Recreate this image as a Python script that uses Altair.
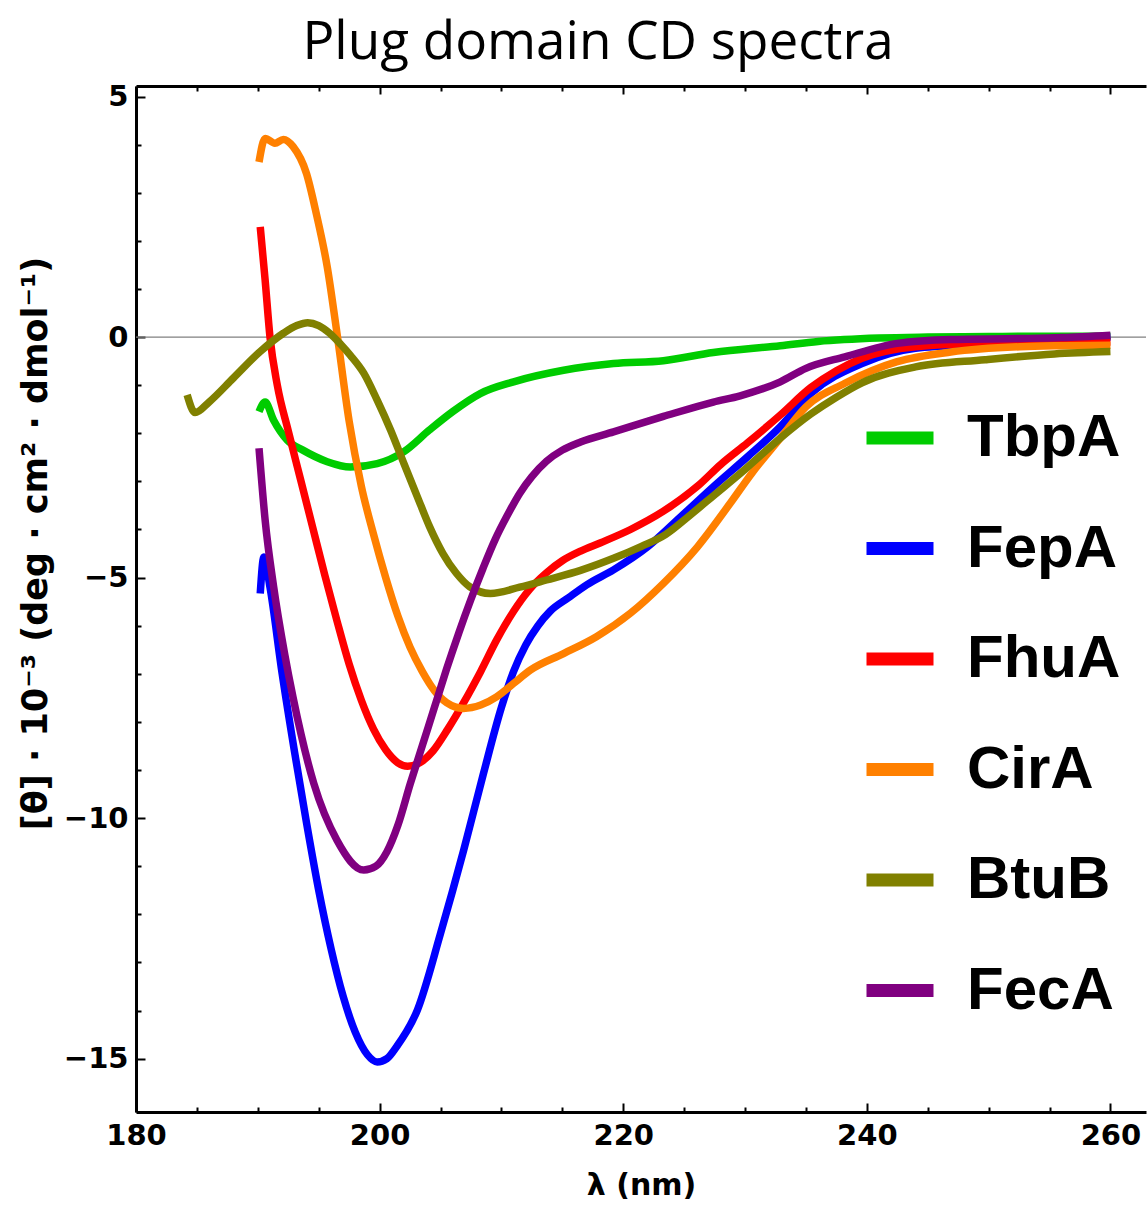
import altair as alt
import pandas as pd

# Series names and colours (legend order = drawing order)
names = ["TbpA", "FepA", "FhuA", "CirA", "BtuB", "FecA"]
colors = ["#00cc00", "#0000ff", "#ff0000", "#ff8000", "#808000", "#800080"]

# Wavelength (nm) and mean residue ellipticity x 10^-3 for each plug domain
tbpa_wl = [190.1, 190.6, 191.3, 192.4, 193.7, 195.7, 197.6, 199.8, 202.0, 204.1, 206.0,
           208.3, 211.0, 215.1, 219.2, 223.3, 227.4, 232.9, 236.0, 241.0, 245.0, 250.0,
           255.0, 260.0]
tbpa_cd = [-1.55, -1.35, -1.73, -2.14, -2.35, -2.59, -2.70, -2.63, -2.38, -1.93, -1.55,
           -1.17, -0.93, -0.69, -0.55, -0.49, -0.32, -0.18, -0.09, -0.02, 0.0, 0.01,
           0.02, 0.02]

fepa_wl = [190.2, 190.5, 191.0, 192.0, 193.0, 194.0, 195.0, 196.0, 197.0, 198.0, 199.0,
           199.8, 200.6, 201.4, 203.1, 205.0, 206.9, 208.5, 210.0, 211.0, 212.0, 213.0,
           214.0, 215.5, 217.0, 219.2, 222.0, 224.7, 227.4, 230.2, 232.9, 235.4, 239.6,
           244.0, 249.7, 255.0, 260.0]
fepa_cd = [-5.33, -4.57, -5.2, -7.0, -8.6, -10.1, -11.5, -12.7, -13.7, -14.45, -14.92,
           -15.07, -15.0, -14.75, -13.99, -12.4, -10.67, -9.1, -7.7, -6.95, -6.4, -6.0,
           -5.7, -5.42, -5.15, -4.84, -4.36, -3.74, -3.11, -2.49, -1.86, -1.17, -0.55,
           -0.23, -0.15, -0.08, 0.0]

fhua_wl = [190.2, 190.6, 191.0, 191.6, 192.5, 193.5, 194.5, 195.5, 196.5, 197.5, 198.5,
           199.5, 200.5, 201.5, 202.3, 203.3, 204.4, 205.6, 206.9, 208.3, 209.6, 211.0,
           212.3, 213.7, 215.0, 216.5, 218.1, 220.6, 223.3, 226.1, 228.0, 230.2, 232.9,
           235.4, 237.5, 239.6, 244.0, 249.7, 255.0, 260.0]
fhua_cd = [2.29, 1.19, 0.0, -1.0, -1.95, -2.95, -3.95, -4.95, -5.9, -6.8, -7.55,
           -8.15, -8.58, -8.85, -8.92, -8.85, -8.6, -8.15, -7.6, -6.95, -6.3, -5.7,
           -5.25, -4.9, -4.65, -4.45, -4.28, -4.0, -3.62, -3.1, -2.65, -2.2, -1.62,
           -1.05, -0.7, -0.44, -0.20, -0.13, -0.11, -0.10]

cira_wl = [190.1, 190.6, 191.4, 192.1, 192.9, 194.0, 194.8, 195.7, 196.5, 197.5, 198.5,
           199.5, 200.5, 201.5, 202.5, 203.5, 204.5, 205.5, 206.9, 208.3, 209.6, 211.0,
           212.4, 215.1, 217.8, 220.6, 223.3, 226.1, 228.8, 230.5, 232.9, 235.0, 238.2,
           242.5, 246.9, 252.6, 256.0, 260.0]
cira_cd = [3.64, 4.13, 4.03, 4.11, 3.96, 3.40, 2.57, 1.46, 0.08, -1.75, -3.1,
           -4.1, -5.0, -5.8, -6.45, -6.95, -7.35, -7.6, -7.72, -7.65, -7.48, -7.2,
           -6.92, -6.58, -6.23, -5.74, -5.12, -4.36, -3.45, -2.85, -2.1, -1.45, -0.96,
           -0.51, -0.31, -0.20, -0.18, -0.17]

btub_wl = [184.2, 184.85, 186.0, 188.0, 190.2, 192.1, 193.2, 194.1, 195.0, 195.9, 196.8,
           197.6, 198.7, 199.8, 200.9, 202.0, 203.1, 204.1, 205.2, 206.3, 207.4, 209.1,
           211.5, 213.7, 216.5, 219.2, 221.5, 223.5, 225.5, 227.4, 230.0, 232.9, 235.4,
           237.5, 239.6, 244.0, 249.7, 255.4, 260.0]
btub_cd = [-1.2, -1.57, -1.35, -0.85, -0.3, 0.08, 0.24, 0.30, 0.24, 0.08, -0.15,
           -0.38, -0.75, -1.31, -1.93, -2.63, -3.32, -3.94, -4.5, -4.91, -5.19, -5.33,
           -5.2, -5.05, -4.85, -4.6, -4.35, -4.1, -3.7, -3.3, -2.75, -2.1, -1.6,
           -1.25, -0.95, -0.62, -0.47, -0.35, -0.30]

feca_wl = [190.1, 190.6, 191.3, 192.2, 192.9, 194.6, 196.5, 198.7, 199.7, 200.6, 201.5,
           202.5, 203.5, 204.5, 205.5, 206.5, 207.5, 208.5, 209.5, 210.5, 211.5, 212.5,
           213.7, 215.0, 216.5, 219.2, 223.3, 227.4, 229.6, 232.9, 235.0, 238.2, 242.5,
           246.9, 252.6, 256.0, 260.0]
feca_cd = [-2.31, -3.80, -5.19, -6.58, -7.5, -9.28, -10.46, -11.08, -11.0, -10.7, -10.15,
           -9.3, -8.5, -7.7, -6.9, -6.15, -5.45, -4.8, -4.2, -3.7, -3.25, -2.9,
           -2.58, -2.35, -2.18, -1.97, -1.65, -1.35, -1.22, -0.93, -0.65, -0.41, -0.13,
           -0.05, -0.03, -0.01, 0.04]

# Axis tick positions
x_major = [180, 200, 220, 240, 260]
x_minor = [185, 190, 195, 205, 210, 215, 225, 230, 235, 245, 250, 255]
y_major = [-15, -10, -5, 0, 5]
y_minor = [-14, -13, -12, -11, -9, -8, -7, -6, -4, -3, -2, -1, 1, 2, 3, 4]

X_DOMAIN = [180, 262.92]
Y_DOMAIN = [-16.11, 5.22]

series = [
    ("TbpA", tbpa_wl, tbpa_cd),
    ("FepA", fepa_wl, fepa_cd),
    ("FhuA", fhua_wl, fhua_cd),
    ("CirA", cira_wl, cira_cd),
    ("BtuB", btub_wl, btub_cd),
    ("FecA", feca_wl, feca_cd),
]
rows = []
for name, wl, cd in series:
    for a, b in zip(wl, cd):
        rows.append({"protein": name, "wl": a, "cd": b})
df = pd.DataFrame(rows)

x_scale = alt.Scale(domain=X_DOMAIN, nice=False, zero=False)
y_scale = alt.Scale(domain=Y_DOMAIN, nice=False, zero=False)

BOLD = "DejaVu Sans"
LEGEND_FONT = "Liberation Sans"
base = alt.Chart(df)

# Horizontal reference line at zero
zero_line = alt.Chart(pd.DataFrame({"v": [0]})).mark_rule(
    color="#808080", strokeWidth=1.2
).encode(y=alt.Y("v:Q", scale=y_scale, axis=None))

lines = base.mark_line(strokeWidth=7.5, interpolate="monotone", clip=True).encode(
    x=alt.X(
        "wl:Q", scale=x_scale,
        axis=alt.Axis(
            orient="bottom", values=x_major, format="d", ticks=False, grid=False,
            domainColor="black", domainWidth=3, labelFlush=False, labelOverlap=False,
            labelFont=BOLD, labelFontWeight="bold", labelFontSize=29, labelColor="black",
            labelPadding=9, title="λ (nm)", titleFont=BOLD, titleFontWeight="bold",
            titleFontSize=30, titleColor="black", titlePadding=20,
        ),
    ),
    y=alt.Y(
        "cd:Q", scale=y_scale,
        axis=alt.Axis(
            orient="left", values=y_major, format="d", ticks=False, grid=False,
            domainColor="black", domainWidth=3, labelFlush=False, labelOverlap=False,
            labelFont=BOLD, labelFontWeight="bold", labelFontSize=29, labelColor="black",
            labelPadding=8, title="[θ] · 10⁻³  (deg · cm² · dmol⁻¹)", titleFont=BOLD,
            titleFontWeight="bold", titleFontSize=35, titleColor="black", titlePadding=10,
            titleY=457,
        ),
    ),
    color=alt.Color(
        "protein:N",
        scale=alt.Scale(domain=names, range=colors),
        legend=alt.Legend(
            orient="none", legendX=724, legendY=312, title=None, padding=0,
            symbolType="stroke", symbolSize=4489, symbolStrokeWidth=13,
            labelFont=LEGEND_FONT, labelFontWeight="bold", labelFontSize=60,
            labelColor="black", labelOffset=27, rowPadding=40.5, labelLimit=0,
        ),
    ),
)


def tick_axis(orient, values, size, domain=False):
    return alt.Axis(
        orient=orient, values=values, offset=-size, tickSize=size, tickWidth=2,
        tickColor="black", labels=False, domain=domain, grid=False, title=None,
        domainWidth=3, domainColor="black",
    )


def tick_layer(x_axis, y_axis):
    return base.mark_line(opacity=0).encode(
        x=alt.X("wl:Q", scale=x_scale, axis=x_axis),
        y=alt.Y("cd:Q", scale=y_scale, axis=y_axis),
        detail="protein:N",
    )


ticks_major = tick_layer(tick_axis("bottom", x_major, 9), tick_axis("left", y_major, 9))
ticks_minor = tick_layer(tick_axis("bottom", x_minor, 5), tick_axis("left", y_minor, 5))
top_major = tick_layer(tick_axis("top", x_major, 8), None)
top_minor = tick_layer(tick_axis("top", x_minor, 5), None)
top_frame = tick_layer(
    alt.Axis(orient="top", values=x_major, ticks=False, labels=False, domain=True,
             domainWidth=3, domainColor="black", grid=False, title=None),
    None,
)

chart = (
    alt.layer(zero_line, ticks_major, ticks_minor, top_major, top_minor, top_frame, lines)
    .resolve_axis(x="independent", y="independent")
    .properties(
        width=1010,
        height=1026,
        autosize=alt.AutoSizeParams(type="none"),
        padding={"left": 136, "top": 86, "right": 2, "bottom": 93},
        title=alt.TitleParams(
            text="Plug domain CD spectra", font="Open Sans", fontSize=53,
            fontWeight="normal", color="black", anchor="middle", dx=-43,
            baseline="alphabetic", offset=25, dy=54,
        ),
    )
    .configure_view(stroke=None)
)

chart.save("out.html", embed_options={"renderer": "svg", "actions": False})
